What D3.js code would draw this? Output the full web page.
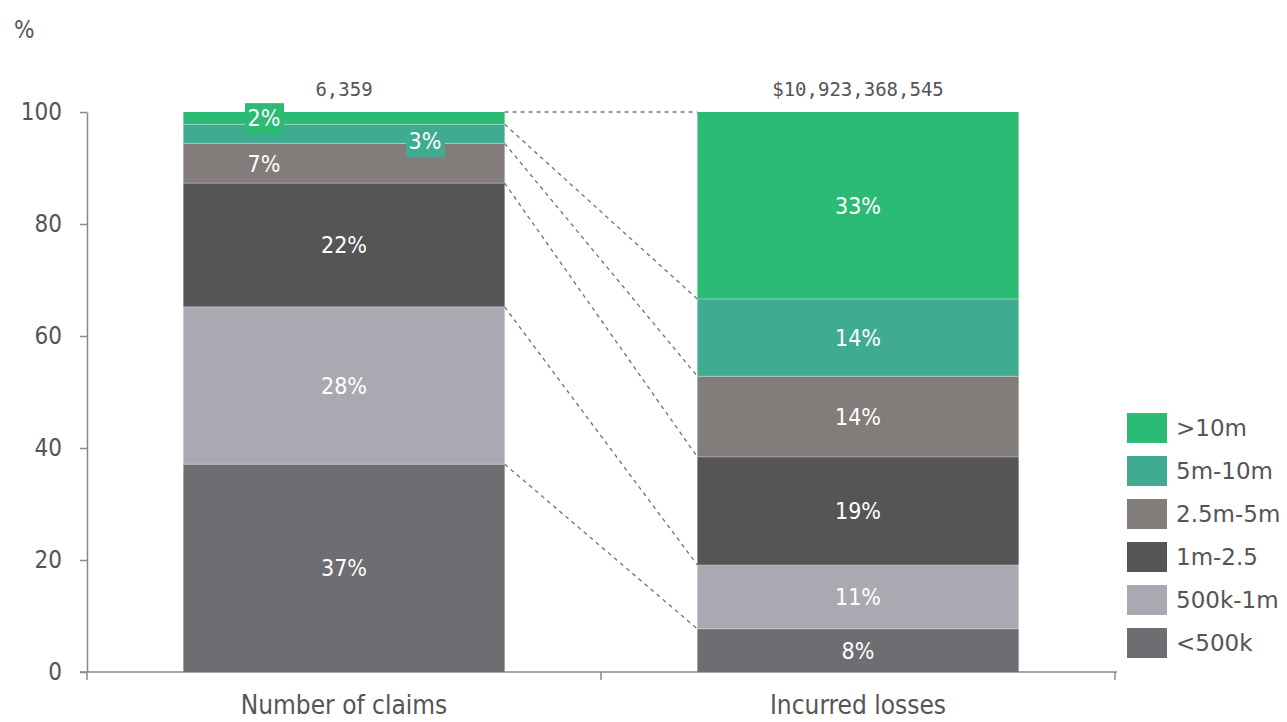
<!DOCTYPE html>
<html>
<head>
<meta charset="utf-8">
<script src="https://cdn.jsdelivr.net/npm/d3@7"></script>
<style>
  body { margin: 0; background: #fff; }
  svg text { font-family: "DejaVu Sans Condensed", "DejaVu Sans", sans-serif; font-stretch: condensed; }
</style>
</head>
<body>
<svg id="chart" width="1287" height="722"></svg>
<script>
const categories = ["Number of claims", "Incurred losses"];
const totals = ["6,359", "$10,923,368,545"];
const seriesNames = ["<500k", "500k-1m", "1m-2.5", "2.5m-5m", "5m-10m", ">10m"];
const claimsValues = [37.1, 28.1, 22.1, 7.1, 3.4, 2.2];
const lossesValues = [7.7, 11.4, 19.3, 14.4, 13.8, 33.4];
const seriesColors = ["#6d6e72", "#aba8b2", "#555555", "#827d7b", "#3fac91", "#2bbb74"];
const yTicks = [0, 20, 40, 60, 80, 100];

const svg = d3.select("#chart");
const textColor = "#555";
const axisColor = "#8a8a8a";

const x = d3.scaleBand().domain(categories).range([87, 1115]).paddingInner(0.375).paddingOuter(0.1875);
const y = d3.scaleLinear().domain([0, 100]).range([672, 112]);

const valuesByCat = [claimsValues, lossesValues];
const stacked = categories.map((c, ci) => {
  let acc = 0;
  return seriesNames.map((s, si) => {
    const v = valuesByCat[ci][si];
    const d = { cat: c, ci, si, series: s, y0: acc, y1: acc + v, v };
    acc += v;
    return d;
  });
});

// Y axis
const yAxis = svg.append("g").attr("transform", "translate(87,0)")
  .call(d3.axisLeft(y).tickValues(yTicks).tickSize(7).tickSizeOuter(0).tickPadding(18));
yAxis.select(".domain").attr("stroke", axisColor).attr("stroke-width", 1.5);
yAxis.selectAll(".tick line").attr("stroke", axisColor).attr("stroke-width", 1.5);
yAxis.selectAll(".tick text").attr("fill", textColor).style("font-size", "24px")
  .style("font-family", '"DejaVu Sans Condensed", "DejaVu Sans", sans-serif');

// X axis baseline
svg.append("line").attr("x1", 80).attr("x2", 1117).attr("y1", y(0)).attr("y2", y(0))
  .attr("stroke", axisColor).attr("stroke-width", 1.5);
const step = x.step();
const bounds = [x.range()[0], x.range()[0] + step, x.range()[0] + 2 * step];
svg.selectAll(".xtick").data(bounds).join("line")
  .attr("x1", d => d).attr("x2", d => d).attr("y1", y(0)).attr("y2", y(0) + 8)
  .attr("stroke", axisColor).attr("stroke-width", 1.5);
svg.selectAll(".xlab").data(categories).join("text")
  .attr("x", d => x(d) + x.bandwidth() / 2).attr("y", 714)
  .attr("text-anchor", "middle").attr("fill", textColor).style("font-size", "26px")
  .text(d => d);

// "%" label
svg.append("text").attr("x", 14).attr("y", 38).attr("fill", textColor).style("font-size", "24px").text("%");

// connectors
const conn = seriesNames.map((s, si) => ({ a: stacked[0][si].y1, b: stacked[1][si].y1 }));
svg.selectAll(".conn").data(conn).join("line")
  .attr("x1", x(categories[0]) + x.bandwidth()).attr("x2", x(categories[1]))
  .attr("y1", d => y(d.a)).attr("y2", d => y(d.b))
  .attr("stroke", "#7a7a7a").attr("stroke-width", 1.4).attr("stroke-dasharray", "4,4");

// bars
const segs = stacked.flat();
svg.selectAll(".seg").data(segs).join("rect")
  .attr("x", d => x(d.cat)).attr("width", x.bandwidth())
  .attr("y", d => y(d.y1)).attr("height", d => y(d.y0) - y(d.y1))
  .attr("fill", d => seriesColors[d.si]);
// thin separators
svg.selectAll(".sep").data(segs.filter(d => d.si > 0)).join("line")
  .attr("x1", d => x(d.cat)).attr("x2", d => x(d.cat) + x.bandwidth())
  .attr("y1", d => y(d.y0)).attr("y2", d => y(d.y0))
  .attr("stroke", "#ffffff").attr("stroke-opacity", 0.35).attr("stroke-width", 1);

// labels (layout overrides for small segments in the first bar)
const labelOffset = { "0-5": { dx: -80, dy: 0, box: true }, "0-4": { dx: 81, dy: 7, box: true }, "0-3": { dx: -80, dy: 0 } };
const fmt = v => Math.round(v) + "%";
const lab = svg.selectAll(".lab").data(segs).join("g")
  .attr("transform", d => {
    const o = labelOffset[d.ci + "-" + d.si] || { dx: 0, dy: 0 };
    const cx = x(d.cat) + x.bandwidth() / 2 + o.dx;
    const cy = (y(d.y0) + y(d.y1)) / 2 + o.dy;
    return `translate(${cx},${cy})`;
  });
lab.filter(d => (labelOffset[d.ci + "-" + d.si] || {}).box)
  .append("rect").attr("x", -19).attr("y", -15).attr("width", 39).attr("height", 31)
  .attr("fill", d => seriesColors[d.si]);
lab.append("text").attr("text-anchor", "middle").attr("dy", "0.36em")
  .attr("fill", "#fff").style("font-size", "23px").text(d => fmt(d.v));

// totals
svg.selectAll(".tot").data(categories).join("text")
  .attr("x", (d) => x(d) + x.bandwidth() / 2).attr("y", 96)
  .attr("text-anchor", "middle").attr("fill", textColor)
  .style("font-family", '"DejaVu Sans Mono", monospace').style("font-stretch", "normal").style("font-size", "19px")
  .text((d, i) => totals[i]);

// legend
const legendOrder = seriesNames.map((s, i) => i).reverse();
const lg = svg.selectAll(".lg").data(legendOrder).join("g")
  .attr("transform", (d, i) => `translate(1127,${413 + i * 43})`);
lg.append("rect").attr("width", 40).attr("height", 30).attr("fill", d => seriesColors[d]);
lg.append("text").attr("x", 49).attr("y", 15).attr("dy", "0.36em").attr("fill", textColor)
  .style("font-size", "23px").style("font-family", '"DejaVu Sans", sans-serif').style("font-stretch", "normal")
  .text(d => seriesNames[d]);
</script>
</body>
</html>
